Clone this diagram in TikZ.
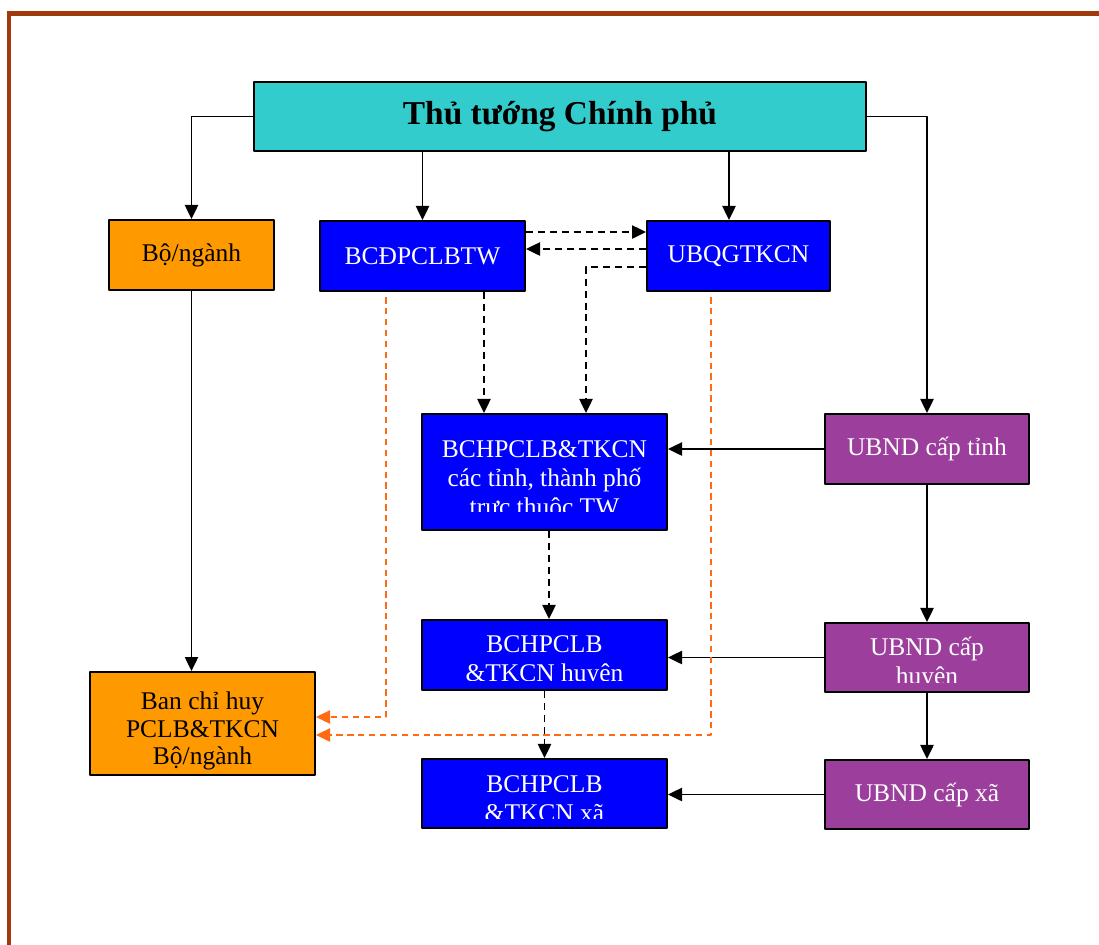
\documentclass[tikz,border=0pt]{standalone}
\usepackage{fontspec}
\setmainfont{Liberation Serif}
\usetikzlibrary{arrows.meta}
\definecolor{khung}{HTML}{A0390B}
\definecolor{xanhngoc}{HTML}{33CCCC}
\definecolor{cam}{HTML}{FF9900}
\definecolor{xanh}{HTML}{0000FF}
\definecolor{tim}{HTML}{9C3F9C}
\definecolor{camnet}{HTML}{FF6A13}
\begin{document}
\begin{tikzpicture}[x=0.02cm, y=-0.02cm, line join=round, >={Triangle[length=8pt,width=7.5pt]},
	box/.style={draw=black, line width=1.1pt, rectangle, inner sep=0pt, align=center, font=\fontsize{14.5}{16.4}\selectfont},
	bluebox/.style={box, fill=xanh, text=white},
	orbox/.style={box, fill=cam, text=black},
	timbox/.style={box, fill=tim, text=white},
	wtxt/.style={inner sep=0pt, align=center, text=white, font=\fontsize{14.5}{16.4}\selectfont},
	arr/.style={->, line width=1.05pt},
	darr/.style={->, line width=1.05pt, dash pattern=on 4pt off 2.8pt},
	oarr/.style={->, line width=0.95pt, draw=camnet, dash pattern=on 3.6pt off 2.6pt, shorten <=3pt}]
	\useasboundingbox (0,0) rectangle (1099,944);
	\clip (0,0) rectangle (1099,944);
	% khung trang
	\draw[khung, line width=2.3pt, line join=miter] (1120,13.5) -- (9,13.5) -- (9,960);
	% cac o
	\node[box, fill=xanhngoc, minimum width=12.24cm, minimum height=1.38cm, font=\bfseries\fontsize{19}{22}\selectfont] (ttg) at (560,116.5) {Thủ tướng Chính phủ};
	\node[orbox, minimum width=3.3cm, minimum height=1.4cm] (bo) at (191.5,255) {Bộ/ngành};
	\node[bluebox, minimum width=4.1cm, minimum height=1.4cm] (bcd) at (422.5,256) {BCĐPCLBTW};
	\node[bluebox, minimum width=3.66cm, minimum height=1.4cm] (ubqg) at (738.5,256) {UBQGTKCN};
	\node[bluebox, minimum width=4.9cm, minimum height=2.32cm] (bchtinh) at (544.5,472) {};
	\node[timbox, minimum width=4.08cm, minimum height=1.4cm] (ubtinh) at (927,449) {UBND cấp tỉnh};
	\node[bluebox, minimum width=4.9cm, minimum height=1.4cm] (bchhuyen) at (544.5,655) {};
	\node[timbox, minimum width=4.08cm, minimum height=1.38cm] (ubhuyen) at (927,657.5) {};
	\node[orbox, minimum width=4.5cm, minimum height=2.06cm, font=\fontsize{14.5}{15.8}\selectfont] (banch) at (202.5,723.5) {\rule{0pt}{18.5pt}Ban chỉ huy\\PCLB\&TKCN\\Bộ/ngành};
	\node[bluebox, minimum width=4.9cm, minimum height=1.38cm] (bchxa) at (544.5,793.5) {};
	\node[timbox, minimum width=4.08cm, minimum height=1.38cm] (ubxa) at (927,794.5) {UBND cấp xã};
	% chu bi cat o day (base = dong cuoi)
	\begin{scope}
		\clip (bchtinh.north west) rectangle (bchtinh.east |- 0,511);
		\node[wtxt, anchor=base] (bchtinh-t) at (bchtinh.center |- 0,515) {BCHPCLB\&TKCN\\các tỉnh, thành phố\\trực thuộc TW};
	\end{scope}
	\begin{scope}
		\clip (bchhuyen.north west) rectangle (bchhuyen.east |- 0,680);
		\node[wtxt, anchor=base] (bchhuyen-t) at (bchhuyen.center |- 0,681.5) {BCHPCLB\\\&TKCN huyện};
	\end{scope}
	\begin{scope}
		\clip (bchxa.north west) rectangle (bchxa.east |- 0,818);
		\node[wtxt, anchor=base] (bchxa-t) at (bchxa.center |- 0,821) {BCHPCLB\\\&TKCN xã};
	\end{scope}
	\begin{scope}
		\clip (ubhuyen.north west) rectangle (ubhuyen.east |- 0,682.5);
		\node[wtxt, anchor=base] (ubhuyen-t) at (ubhuyen.center |- 0,684.5) {UBND cấp\\huyện};
	\end{scope}
	% mui ten lien
	\coordinate (qtop) at ([xshift=-0.19cm]ubqg.north);
	\draw[arr] (ttg.west) -| (bo.north);
	\draw[arr] (ttg.south -| bcd.north) -- (bcd.north);
	\draw[arr] (ttg.south -| qtop) -- (qtop);
	\draw[arr] (ttg.east) -| (ubtinh.north);
	\draw[arr] (bo.south) -- (bo.south |- banch.north);
	\draw[arr] (ubtinh.west) -- (ubtinh.west -| bchtinh.east);
	\draw[arr] (ubhuyen.west) -- (ubhuyen.west -| bchhuyen.east);
	\draw[arr] (ubxa.west) -- (ubxa.west -| bchxa.east);
	\draw[arr] (ubtinh.south) -- (ubhuyen.north);
	\draw[arr] (ubhuyen.south) -- (ubxa.north);
	% mui ten dut
	\coordinate (q3) at ([yshift=-0.22cm]ubqg.west);
	\coordinate (t2) at ([xshift=0.83cm]bchtinh.north);
	\coordinate (b1) at ([xshift=1.23cm]bcd.south);
	\coordinate (t3) at ([xshift=0.09cm]bchtinh.south);
	\draw[darr] ([yshift=0.48cm]bcd.east) -- ([yshift=0.48cm]ubqg.west);
	\draw[darr] ([yshift=0.14cm]ubqg.west) -- ([yshift=0.14cm]bcd.east);
	\draw[darr] (q3) -| (t2);
	\draw[darr] (b1) -- (b1 |- bchtinh.north);
	\draw[darr] (t3) -- (t3 |- bchhuyen.north);
	\draw[darr] (bchhuyen.south) -- (bchxa.north);
	% net cam
	\coordinate (o1) at ([xshift=-0.73cm]bcd.south);
	\coordinate (e1) at ([yshift=0.13cm]banch.east);
	\coordinate (o2) at ([xshift=-0.55cm]ubqg.south);
	\coordinate (e2) at ([yshift=-0.23cm]banch.east);
	\draw[oarr] (o1) |- (e1);
	\draw[oarr] (o2) |- (e2);
\end{tikzpicture}
\end{document}
